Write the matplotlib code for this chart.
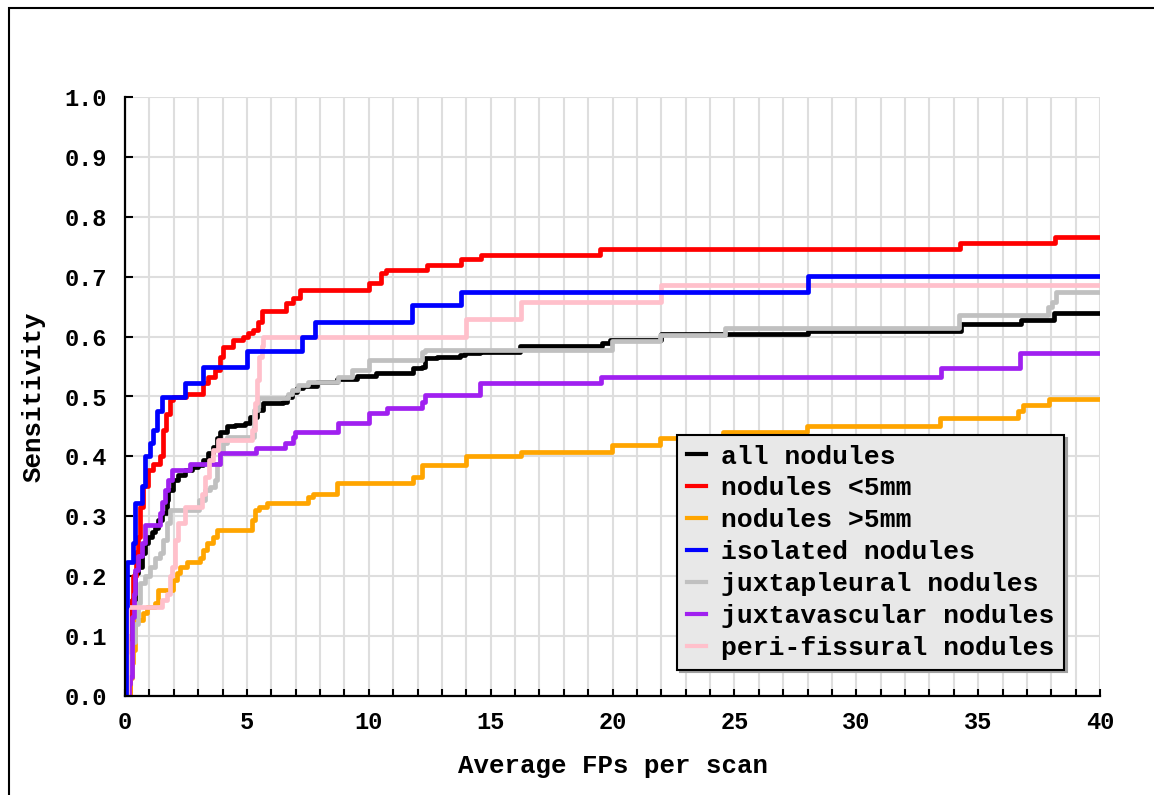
import matplotlib
matplotlib.use('Agg')
import matplotlib.pyplot as plt
from matplotlib.patches import Rectangle
from matplotlib.ticker import MultipleLocator

# FROC curves (x = avg FPs per scan, y = sensitivity)
all_x = [0, 0.15, 0.3, 0.41, 0.55, 0.68, 0.82, 0.96, 1.09, 1.23, 1.37, 1.5, 1.71, 1.78, 1.98, 2.19, 2.46, 2.74, 3.01, 3.21,
         3.42, 3.62, 3.76, 3.9, 4.17, 4.51, 4.92, 5.13, 5.4, 5.67, 6.5, 6.63, 6.84, 7.04, 7.32, 7.86, 8.68, 9.5, 10.3, 11.83,
         12.17, 12.31, 12.79, 13.74, 13.95, 14.56, 16.2, 19.55, 19.9, 22.0, 28.0, 34.3, 36.75, 38.1, 40]
all_y = [0, 0.1, 0.16, 0.205, 0.216, 0.238, 0.255, 0.266, 0.274, 0.28, 0.294, 0.305, 0.327, 0.344, 0.361, 0.369, 0.377, 0.382, 0.386, 0.394,
         0.405, 0.416, 0.43, 0.441, 0.45, 0.452, 0.455, 0.466, 0.478, 0.489, 0.491, 0.5, 0.508, 0.514, 0.518, 0.525, 0.529, 0.535, 0.539, 0.547,
         0.55, 0.564, 0.566, 0.569, 0.572, 0.575, 0.584, 0.59, 0.595, 0.604, 0.609, 0.621, 0.628, 0.639, 0.639]

small_x = [0, 0.2, 0.3, 0.34, 0.45, 0.55, 0.62, 0.75, 0.96, 1.16, 1.44, 1.57, 1.7, 1.85, 1.98, 2.5, 3.2, 3.42, 3.69, 3.9,
           4.03, 4.44, 4.85, 5.06, 5.26, 5.47, 5.61, 6.6, 6.9, 7.18, 10.0, 10.5, 10.7, 12.4, 13.8, 14.6, 19.5, 34.25, 38.15, 40]
small_y = [0, 0.1, 0.16, 0.2, 0.24, 0.266, 0.316, 0.35, 0.377, 0.388, 0.4, 0.444, 0.47, 0.494, 0.5, 0.505, 0.522, 0.533, 0.544, 0.566,
           0.583, 0.594, 0.6, 0.606, 0.611, 0.625, 0.642, 0.656, 0.664, 0.678, 0.69, 0.706, 0.711, 0.72, 0.729, 0.737, 0.746, 0.757, 0.767, 0.767]

large_x = [0, 0.2, 0.27, 0.34, 0.41, 0.75, 0.89, 1.23, 1.37, 1.98, 2.12, 2.26, 2.53, 3.08, 3.21, 3.35, 3.62, 3.76, 5.2, 5.33,
           5.5, 5.81, 7.52, 7.72, 8.68, 11.8, 12.17, 14.0, 16.25, 19.97, 21.95, 24.55, 27.97, 33.44, 36.65, 36.86, 37.92, 40]
large_y = [0, 0.03, 0.055, 0.077, 0.127, 0.138, 0.149, 0.155, 0.177, 0.194, 0.205, 0.216, 0.224, 0.23, 0.244, 0.255, 0.266, 0.277, 0.294, 0.311,
           0.316, 0.322, 0.333, 0.338, 0.355, 0.366, 0.386, 0.4, 0.408, 0.419, 0.43, 0.441, 0.451, 0.464, 0.475, 0.485, 0.496, 0.496]

iso_x = [0, 0.04, 0.07, 0.34, 0.41, 0.68, 0.82, 1.03, 1.16, 1.3, 1.5, 2.45, 3.2, 5.0, 7.25, 7.78, 11.78, 13.78, 28.0, 40]
iso_y = [0, 0.15, 0.224, 0.255, 0.322, 0.35, 0.4, 0.422, 0.444, 0.475, 0.5, 0.522, 0.55, 0.576, 0.6, 0.625, 0.653, 0.675, 0.701, 0.701]

pleural_x = [0, 0.1, 0.2, 0.3, 0.41, 0.55, 0.62, 0.82, 1.03, 1.23, 1.44, 1.57, 1.71, 1.85, 3.05, 3.28, 3.49, 3.69, 3.76, 3.9,
             4.03, 4.2, 5.3, 5.47, 6.7, 6.85, 7.1, 7.5, 8.75, 9.3, 10.0, 12.17, 12.31, 19.97, 21.95, 24.6, 34.23, 37.85, 38.05, 38.2, 40]
pleural_y = [0, 0.04, 0.066, 0.09, 0.121, 0.155, 0.188, 0.2, 0.216, 0.23, 0.238, 0.26, 0.288, 0.311, 0.327, 0.344, 0.349, 0.361, 0.388, 0.405,
             0.422, 0.432, 0.477, 0.497, 0.505, 0.511, 0.519, 0.525, 0.533, 0.545, 0.561, 0.575, 0.578, 0.592, 0.603, 0.615, 0.636, 0.65, 0.658, 0.675, 0.675]

vasc_x = [0, 0.15, 0.2, 0.27, 0.35, 0.41, 0.55, 0.68, 0.82, 1.44, 1.5, 1.64, 1.78, 1.91, 2.67, 3.9, 5.37, 6.56, 6.9, 6.97,
          8.72, 10.0, 10.74, 12.17, 12.31, 14.56, 19.53, 33.47, 36.72, 40]
vasc_y = [0, 0.02, 0.032, 0.132, 0.17, 0.21, 0.233, 0.255, 0.285, 0.305, 0.324, 0.344, 0.361, 0.377, 0.388, 0.406, 0.414, 0.423, 0.433, 0.441,
          0.455, 0.472, 0.48, 0.491, 0.503, 0.522, 0.533, 0.547, 0.572, 0.572]

fiss_x = [0, 0.07, 1.5, 1.71, 1.85, 1.91, 2.05, 2.19, 2.46, 3.15, 3.3, 3.45, 3.6, 3.83, 5.2, 5.33, 5.4, 5.5, 5.6, 5.67,
          14.0, 16.25, 22.0, 40]
fiss_y = [0, 0.149, 0.16, 0.171, 0.2, 0.216, 0.26, 0.288, 0.316, 0.338, 0.366, 0.394, 0.41, 0.427, 0.444, 0.489, 0.528, 0.566, 0.585, 0.6,
          0.629, 0.657, 0.686, 0.686]

# (x, y, colour, label, zorder) - legend keeps this order, z decides overlaps
curves = [
    (all_x, all_y, 'black', 'all nodules', 2.0),
    (small_x, small_y, '#ff0000', 'nodules <5mm', 2.1),
    (large_x, large_y, '#ffa500', 'nodules >5mm', 2.2),
    (iso_x, iso_y, '#0000ff', 'isolated nodules', 2.6),
    (pleural_x, pleural_y, '#c0c0c0', 'juxtapleural nodules', 2.3),
    (vasc_x, vasc_y, '#a020f0', 'juxtavascular nodules', 2.4),
    (fiss_x, fiss_y, '#ffc0cb', 'peri-fissural nodules', 2.5),
]

plt.rcParams['font.family'] = ['Liberation Mono', 'DejaVu Sans Mono']
plt.rcParams['font.weight'] = 'bold'
plt.rcParams['axes.labelweight'] = 'bold'

fig = plt.figure(figsize=(11.54, 7.95), dpi=100)
ax = fig.add_axes([125 / 1154, 1 - 696 / 795, 975 / 1154, 599 / 795])

for xs, ys, col, lab, z in curves:
    ax.plot(xs, ys, drawstyle='steps-post', color=col, lw=3.4, label=lab, zorder=z)

ax.set_xlim(0, 40)
ax.set_ylim(0, 1.0)
ax.xaxis.set_major_locator(MultipleLocator(5))
ax.xaxis.set_minor_locator(MultipleLocator(1))
ax.yaxis.set_major_locator(MultipleLocator(0.1))
ax.yaxis.set_major_formatter(plt.FormatStrFormatter('%.1f'))
ax.grid(True, which='both', color='#dedede', lw=1.5)
ax.set_axisbelow(True)
for s in ['top', 'right']:
    ax.spines[s].set_visible(False)
for s in ['left', 'bottom']:
    ax.spines[s].set_linewidth(1.6)
    ax.spines[s].set_zorder(3)
ax.tick_params(which='both', direction='in', width=1.5, labelsize=17)
ax.tick_params(axis='y', length=6, pad=13)
ax.tick_params(axis='x', which='both', length=5, pad=11)

ax.set_xlabel('Average FPs per scan', fontsize=18.5, labelpad=14)
ax.set_ylabel('Sensitivity', fontsize=18.5, labelpad=14)

leg = ax.legend(loc='upper left', bbox_to_anchor=(677 / 1154, 1 - 435 / 795),
                bbox_transform=fig.transFigure, borderaxespad=0,
                fontsize=19, frameon=True, fancybox=False,
                shadow={'color': '#a0a0a0', 'alpha': 1},
                handlelength=0.72, handletextpad=0.6, labelspacing=0.3,
                borderpad=0.36)
for h in leg.get_lines():
    h.set_linewidth(3)
leg.get_frame().set_facecolor('#e8e8e8')
leg.get_frame().set_edgecolor('black')
leg.get_frame().set_linewidth(1.5)
leg.get_frame().set_alpha(1)
leg.set_zorder(5)

# outer frame of the original image
fig.patches.append(Rectangle((9 / 1154, -0.1), 1.2, 1.1 - 8 / 795, transform=fig.transFigure,
                             fill=False, edgecolor='black', lw=1.5))

fig.savefig('out.png', dpi=100)
